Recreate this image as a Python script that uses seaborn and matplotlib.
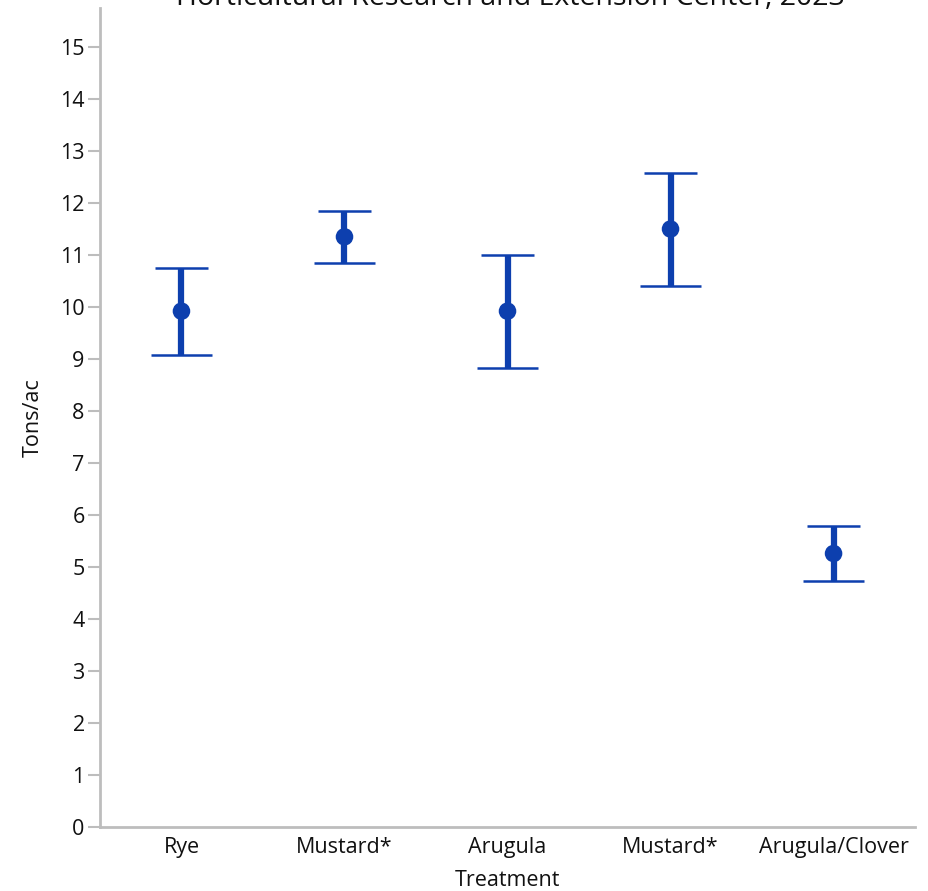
import matplotlib
matplotlib.use("Agg")
import matplotlib.pyplot as plt
import numpy as np
import pandas as pd
import seaborn as sns

sns.set_theme(style="white")
plt.rcParams["font.family"] = ["Open Sans", "DejaVu Sans"]
plt.rcParams["text.color"] = "#111111"
plt.rcParams["axes.labelcolor"] = "#111111"

COLOR = "#0d3fae"
GRAY = "#bdbdbd"

treatments = ["Rye", "Mustard*", "Arugula", "Mustard* ", "Arugula/Clover"]
tick_labels = ["Rye", "Mustard*", "Arugula", "Mustard*", "Arugula/Clover"]
means = [9.92, 11.35, 9.92, 11.50, 5.26]
upper = [10.75, 11.85, 11.00, 12.57, 5.78]
lower = [9.08, 10.85, 8.83, 10.41, 4.73]

df = pd.DataFrame({"x": np.arange(len(treatments)), "mean": means,
                   "upper": upper, "lower": lower})

fig = plt.figure(figsize=(9.29, 8.91), dpi=100)
ax = fig.add_axes([0.1076, 0.0718, 0.8774, 0.9192])

# error bars: thick stem, thin caps
ax.vlines(df["x"], df["lower"], df["upper"], color=COLOR, lw=4.5, zorder=2)
ax.hlines(df["upper"], df["x"] - 0.165, df["x"] + 0.165, color=COLOR, lw=1.8, zorder=2)
ax.hlines(df["lower"], df["x"] - 0.187, df["x"] + 0.187, color=COLOR, lw=1.8, zorder=2)
sns.scatterplot(data=df, x="x", y="mean", ax=ax, color=COLOR, s=160,
                edgecolor="none", zorder=3, legend=False)

ax.set_xlim(-0.5, 4.5)
ax.set_ylim(0, 15.75)
ax.set_yticks(range(0, 16))
ax.set_xticks(df["x"])
ax.set_xticklabels(tick_labels)
ax.tick_params(axis="y", length=9, width=1.5, color=GRAY, labelsize=15.5,
               pad=2, left=True, labelcolor="#111111")
ax.tick_params(axis="x", length=0, labelsize=15.5, pad=7, labelcolor="#111111")
for side in ["top", "right"]:
    ax.spines[side].set_visible(False)
for side in ["left", "bottom"]:
    ax.spines[side].set_color(GRAY)
    ax.spines[side].set_linewidth(2)

ax.set_xlabel("Treatment", fontsize=15.5, labelpad=9)
ax.set_ylabel("Tons/ac", fontsize=15.5, labelpad=12)

# title sits partly above the top edge, as in the source image
fig.text(0.549, 0.9945, "Horticultural Research and Extension Center, 2023",
         ha="center", va="baseline", fontsize=20.5)

fig.savefig("out.png", dpi=100)
